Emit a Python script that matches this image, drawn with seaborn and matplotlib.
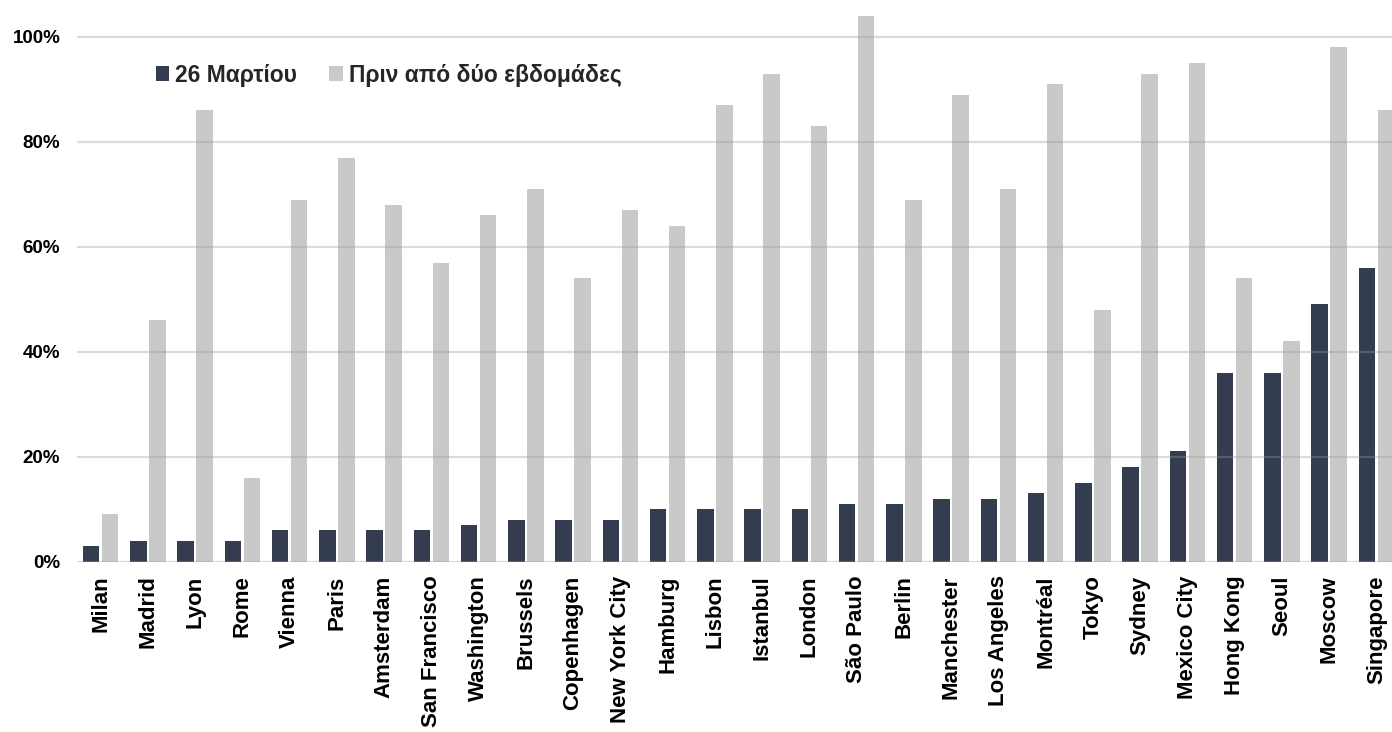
import matplotlib
matplotlib.use("Agg")
import matplotlib.pyplot as plt
import seaborn as sns
import pandas as pd
from matplotlib.ticker import FuncFormatter

cities = ["Milan", "Madrid", "Lyon", "Rome", "Vienna", "Paris", "Amsterdam",
          "San Francisco", "Washington", "Brussels", "Copenhagen", "New York City",
          "Hamburg", "Lisbon", "Istanbul", "London", "São Paulo", "Berlin",
          "Manchester", "Los Angeles", "Montréal", "Tokyo", "Sydney",
          "Mexico City", "Hong Kong", "Seoul", "Moscow", "Singapore"]
march26 = [3, 4, 4, 4, 6, 6, 6, 6, 7, 8, 8, 8, 10, 10, 10, 10, 11, 11,
           12, 12, 13, 15, 18, 21, 36, 36, 49, 56]
two_weeks_ago = [9, 46, 86, 16, 69, 77, 68, 57, 66, 71, 54, 67, 64, 87, 93, 83,
                 104, 69, 89, 71, 91, 48, 93, 95, 54, 42, 98, 86]
series_names = ["26 Μαρτίου", "Πριν από δύο εβδομάδες"]
series_colors = ["#333D4F", "#C9C9C9"]
y_ticks = [0, 20, 40, 60, 80, 100]

df = pd.DataFrame({
    "city": cities * 2,
    "value": march26 + two_weeks_ago,
    "series": [series_names[0]] * len(cities) + [series_names[1]] * len(cities),
})

sns.set_theme(style="white")
plt.rcParams["font.family"] = ["Liberation Sans", "DejaVu Sans"]
plt.rcParams["font.weight"] = "bold"

fig = plt.figure(figsize=(13.92, 7.32), dpi=100)
ax = fig.add_axes([77 / 1392, 0.2329, 1323 / 1392, 0.7883])

sns.barplot(data=df, x="city", y="value", hue="series", order=cities,
            hue_order=series_names, palette=series_colors, width=0.8, gap=0.12,
            saturation=1, linewidth=0, ax=ax, legend=True)

ax.set_ylim(0, 110)
ax.set_xlim(-0.5, len(cities) - 0.5)
ax.set_yticks(y_ticks)
ax.yaxis.set_major_formatter(FuncFormatter(lambda v, p: f"{int(v)}%"))
ax.set_xlabel("")
ax.set_ylabel("")
for s in ax.spines.values():
    s.set_visible(False)

# gridlines drawn over bars, semi-transparent
for t in y_ticks:
    ax.axhline(t, color="#999999", alpha=0.35, linewidth=1.6, zorder=5)

ax.tick_params(axis="y", length=0, pad=12, labelsize=13.5)
ax.tick_params(axis="x", length=0, pad=10, labelsize=16, rotation=90)
for lbl in ax.get_yticklabels() + ax.get_xticklabels():
    lbl.set_fontweight("bold")
    lbl.set_color("black")

handles, labels = ax.get_legend_handles_labels()
ax.legend(handles, labels, loc="center left", bbox_to_anchor=(135 / 1392, 0.8975),
          bbox_transform=fig.transFigure, ncol=2, frameon=False,
          handlelength=0.6, handleheight=0.6, handletextpad=0.25,
          columnspacing=1.4, prop={"weight": "bold", "size": 16.5})

fig.savefig("out.png", dpi=100)
